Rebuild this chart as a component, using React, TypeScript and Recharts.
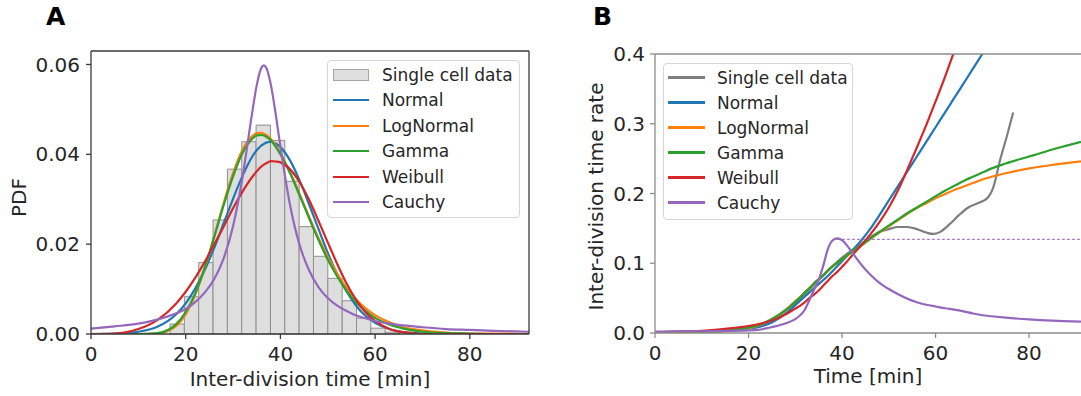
import { ComposedChart, Line, XAxis, YAxis, ReferenceLine, ReferenceArea, Legend } from "recharts";

const FONT = "'DejaVu Sans', sans-serif";
const INK = "#262626";

// matplotlib tab colours
const GRAY = "#7f7f7f";
const BLUE = "#1f77b4";
const ORANGE = "#ff7f0e";
const GREEN = "#2ca02c";
const RED = "#d62728";
const PURPLE = "#9467bd";

// ---- panel A: histogram of inter-division times + fitted pdfs ----
const BIN_WIDTH = 3.03;
const binCenters = [18.2, 21.23, 24.26, 27.29, 30.32, 33.35, 36.38, 39.41, 42.44, 45.47, 48.5, 51.53, 54.56, 57.59, 60.62, 63.65];
const binHeights = [0.0022, 0.0083, 0.0159, 0.0254, 0.0367, 0.0428, 0.0465, 0.0431, 0.034, 0.0239, 0.0173, 0.0124, 0.0074, 0.0035, 0.0013, 0.0004];

const pdfX = [0, 5, 10, 14, 18, 20, 22, 24, 26, 28, 30, 32, 34, 35, 36, 36.5, 37, 38, 39, 40, 42, 44, 46, 48, 50, 52, 54, 56, 58, 60, 63, 66, 70, 75, 80, 85, 92.5];
const pdfNormal = [0, 0.0001, 0.0005, 0.0016, 0.0044, 0.0068, 0.0101, 0.0142, 0.0191, 0.0246, 0.0301, 0.0352, 0.0394, 0.0409, 0.042, 0.0423, 0.0426, 0.0428, 0.0424, 0.0416, 0.0387, 0.0343, 0.029, 0.0235, 0.0181, 0.0133, 0.0094, 0.0063, 0.004, 0.0025, 0.0011, 0.0004, 0.0001, 0, 0, 0, 0];
const pdfLogNormal = [0, 0, 0, 0.0001, 0.0018, 0.0044, 0.0087, 0.0146, 0.0217, 0.0291, 0.0358, 0.041, 0.044, 0.0447, 0.0448, 0.0446, 0.0443, 0.0434, 0.042, 0.0403, 0.0361, 0.0313, 0.0263, 0.0215, 0.0172, 0.0134, 0.0102, 0.0077, 0.0057, 0.0042, 0.0026, 0.0015, 0.0008, 0.0003, 0.0001, 0.0001, 0];
const pdfGamma = [0, 0, 0, 0.0002, 0.0022, 0.0049, 0.009, 0.0147, 0.0215, 0.0286, 0.0351, 0.0403, 0.0434, 0.0442, 0.0443, 0.0442, 0.0439, 0.0431, 0.0417, 0.04, 0.0359, 0.031, 0.0259, 0.021, 0.0166, 0.0128, 0.0096, 0.007, 0.0051, 0.0036, 0.0021, 0.0012, 0.0005, 0.0002, 0.0001, 0, 0];
const pdfWeibull = [0, 0.0001, 0.0011, 0.0031, 0.0068, 0.0094, 0.0125, 0.016, 0.0199, 0.0239, 0.028, 0.0317, 0.0349, 0.0362, 0.0373, 0.0377, 0.038, 0.0385, 0.0384, 0.0382, 0.0367, 0.0339, 0.03, 0.0253, 0.0204, 0.0156, 0.0112, 0.0076, 0.0048, 0.0029, 0.0011, 0.0004, 0, 0, 0, 0, 0];
const pdfCauchy = [0.0012, 0.0017, 0.0023, 0.0032, 0.0046, 0.0056, 0.0071, 0.0092, 0.0122, 0.0168, 0.024, 0.0349, 0.049, 0.0554, 0.0593, 0.0598, 0.0593, 0.0554, 0.049, 0.0417, 0.0289, 0.02, 0.0143, 0.0105, 0.008, 0.0063, 0.0051, 0.0041, 0.0035, 0.0029, 0.0023, 0.0019, 0.0015, 0.0011, 0.0009, 0.0007, 0.0005];

// ---- panel B: inter-division time rate (hazard) ----
const cellX = [0, 10, 20, 25, 30, 35, 40, 44, 46, 48, 50, 52, 54, 56, 58, 59.5, 61, 63, 65, 67, 69, 71, 72.4, 73.8, 75.2, 76.6];
const cellRate = [0.001, 0.002, 0.008, 0.019, 0.043, 0.076, 0.108, 0.127, 0.137, 0.145, 0.149, 0.152, 0.152, 0.149, 0.144, 0.142, 0.145, 0.156, 0.169, 0.18, 0.186, 0.193, 0.21, 0.248, 0.281, 0.316];

const fitX = [0, 5, 10, 15, 20, 22, 25, 28, 30, 31, 32, 33, 34, 35, 36, 37, 38, 39, 40, 41, 42, 44, 46, 48, 50, 52, 54, 56, 58, 60, 62, 64, 66, 68, 70, 72, 75, 80, 85, 91.1];
const rateNormal = [0.001, 0.0015, 0.0025, 0.0045, 0.0065, 0.0085, 0.015, 0.028, 0.04, 0.046, 0.052, 0.058, 0.064, 0.07, 0.076, 0.082, 0.089, 0.096, 0.103, 0.11, 0.117, 0.132, 0.149, 0.169, 0.19, 0.211, 0.232, 0.253, 0.274, 0.295, 0.316, 0.337, 0.358, 0.379, 0.4, 0.421];
const rateLogNormal = [0.0001, 0.0003, 0.0008, 0.0025, 0.007, 0.0105, 0.0195, 0.0335, 0.0455, 0.0515, 0.058, 0.0645, 0.071, 0.077, 0.083, 0.0895, 0.0955, 0.1005, 0.1055, 0.1105, 0.1155, 0.125, 0.1345, 0.144, 0.153, 0.162, 0.171, 0.179, 0.186, 0.193, 0.199, 0.205, 0.21, 0.215, 0.22, 0.224, 0.229, 0.236, 0.241, 0.246];
const rateGamma = [0.0003, 0.0006, 0.0012, 0.003, 0.0075, 0.011, 0.02, 0.033, 0.045, 0.051, 0.058, 0.064, 0.071, 0.077, 0.083, 0.09, 0.096, 0.101, 0.106, 0.111, 0.116, 0.125, 0.135, 0.145, 0.154, 0.163, 0.172, 0.18, 0.188, 0.196, 0.204, 0.211, 0.218, 0.224, 0.23, 0.236, 0.243, 0.253, 0.263, 0.274];
const rateWeibull = [0.001, 0.002, 0.003, 0.006, 0.01, 0.0125, 0.018, 0.027, 0.035, 0.039, 0.044, 0.05, 0.055, 0.061, 0.068, 0.075, 0.082, 0.088, 0.095, 0.102, 0.11, 0.125, 0.141, 0.159, 0.18, 0.205, 0.235, 0.266, 0.298, 0.332, 0.367, 0.404, 0.442];
const rateCauchy = [0.002, 0.0022, 0.0025, 0.003, 0.0037, 0.0045, 0.0085, 0.014, 0.02, 0.025, 0.033, 0.047, 0.062, 0.076, 0.097, 0.121, 0.133, 0.1358, 0.133, 0.126, 0.117, 0.099, 0.084, 0.072, 0.063, 0.0555, 0.049, 0.044, 0.0405, 0.038, 0.0355, 0.0335, 0.031, 0.028, 0.0255, 0.024, 0.022, 0.0195, 0.0177, 0.0163];
const cauchyPeakX = [38.9, 91.1];
const cauchyPeakRate = [0.1343, 0.1343];

const pairs = (xs: number[], ys: number[]) => ys.map((y, i) => ({ x: xs[i], y }));

const legendA = [
    { label: "Single cell data", color: "#dedede", patch: true },
    { label: "Normal", color: BLUE },
    { label: "LogNormal", color: ORANGE },
    { label: "Gamma", color: GREEN },
    { label: "Weibull", color: RED },
    { label: "Cauchy", color: PURPLE },
];
const legendB = [
    { label: "Single cell data", color: GRAY },
    { label: "Normal", color: BLUE },
    { label: "LogNormal", color: ORANGE },
    { label: "Gamma", color: GREEN },
    { label: "Weibull", color: RED },
    { label: "Cauchy", color: PURPLE },
];

function LegendBox({ items, rowH, padL, handle, gap, w, h }: any) {
    return (
        <div style={{
            boxSizing: "border-box", width: w, height: h, padding: `1px 0 0 ${padL}px`,
            border: "1px solid #d6d6d6", borderRadius: 4, background: "rgba(255,255,255,0.85)", fontFamily: FONT,
        }}>
            {items.map((it: any) => (
                <div key={it.label} style={{ display: "flex", alignItems: "center", height: rowH }}>
                    {it.patch ? (
                        <span style={{ boxSizing: "border-box", width: handle, height: 12, background: it.color, border: "1px solid #a6a6a6" }} />
                    ) : (
                        <span style={{ width: handle, height: 2.2, background: it.color }} />
                    )}
                    <span style={{ marginLeft: gap, fontSize: 17, color: INK, whiteSpace: "nowrap" }}>{it.label}</span>
                </div>
            ))}
        </div>
    );
}

const tickStyle = { fill: INK, fontSize: 20 };
const labelStyle = { fill: INK, fontSize: 20 };

function PanelA() {
    const W = 540, H = 396;
    const axis = "#3a3a3a";
    const fits = [
        { name: "Normal", ys: pdfNormal, color: BLUE },
        { name: "LogNormal", ys: pdfLogNormal, color: ORANGE },
        { name: "Gamma", ys: pdfGamma, color: GREEN },
        { name: "Weibull", ys: pdfWeibull, color: RED },
        { name: "Cauchy", ys: pdfCauchy, color: PURPLE },
    ];
    return (
        <ComposedChart width={W} height={H} margin={{ top: 51, right: 11, bottom: 0, left: 0 }}>
            <XAxis dataKey="x" type="number" domain={[0, 92.5]} allowDataOverflow ticks={[0, 20, 40, 60, 80]}
                height={62} tickSize={5} tickMargin={8} stroke={axis} strokeWidth={1.3} tick={tickStyle}
                label={{ value: "Inter-division time [min]", position: "insideBottom", offset: 10, ...labelStyle }} />
            <YAxis type="number" domain={[0, 0.063]} allowDataOverflow ticks={[0, 0.02, 0.04, 0.06]}
                tickFormatter={(v: number) => v.toFixed(2)} width={91} tickSize={5} tickMargin={6}
                stroke={axis} strokeWidth={1.3} tick={tickStyle}
                label={{ value: "PDF", angle: -90, position: "center", dx: -27, dy: 5, ...labelStyle }} />
            {binCenters.map((c, i) => (
                <ReferenceArea key={c} x1={c - BIN_WIDTH / 2} x2={c + BIN_WIDTH / 2} y1={0} y2={binHeights[i]}
                    fill="#dedede" fillOpacity={1} stroke="#8f8f8f" strokeWidth={1} />
            ))}
            {fits.map(f => (
                <Line key={f.name} data={pairs(pdfX, f.ys)} dataKey="y" type="monotone" stroke={f.color}
                    strokeWidth={2.2} dot={false} isAnimationActive={false} />
            ))}
            <ReferenceLine y={0.063} stroke={axis} strokeWidth={1.3} />
            <ReferenceLine x={92.5} stroke={axis} strokeWidth={1.3} />
            <Legend layout="vertical" align="center" verticalAlign="middle"
                wrapperStyle={{ left: 327, top: 60, width: 193, height: 158 }}
                content={() => <LegendBox items={legendA} rowH={25.5} padL={5} handle={36} gap={13} w={193} h={158} />} />
        </ComposedChart>
    );
}

function PanelB() {
    const W = 521, H = 396;
    const axis = "#8c8c8c";
    const fits = [
        { name: "Normal", ys: rateNormal, color: BLUE },
        { name: "LogNormal", ys: rateLogNormal, color: ORANGE },
        { name: "Gamma", ys: rateGamma, color: GREEN },
        { name: "Weibull", ys: rateWeibull, color: RED },
        { name: "Cauchy", ys: rateCauchy, color: PURPLE },
    ];
    return (
        <ComposedChart width={W} height={H} margin={{ top: 54, right: 0, bottom: 0, left: 0 }}>
            <XAxis dataKey="x" type="number" domain={[0, 91.1]} allowDataOverflow ticks={[0, 20, 40, 60, 80]}
                height={63} tickSize={5} tickMargin={8} stroke={axis} strokeWidth={1.3} tick={tickStyle}
                label={{ value: "Time [min]", position: "insideBottom", offset: 13, ...labelStyle }} />
            <YAxis type="number" domain={[0, 0.4]} allowDataOverflow ticks={[0, 0.1, 0.2, 0.3, 0.4]}
                tickFormatter={(v: number) => v.toFixed(1)} width={95} tickSize={5} tickMargin={5}
                stroke={axis} strokeWidth={1.3} tick={tickStyle}
                label={{ value: "Inter-division time rate", angle: -90, position: "center", dx: -12, dy: 3, ...labelStyle }} />
            <Line data={pairs(cellX, cellRate)} dataKey="y" type="monotone" stroke={GRAY} strokeWidth={2.2}
                dot={false} isAnimationActive={false} />
            {fits.map(f => (
                <Line key={f.name} data={pairs(fitX, f.ys)} dataKey="y" type="monotone" stroke={f.color}
                    strokeWidth={2.2} dot={false} isAnimationActive={false} />
            ))}
            <Line data={pairs(cauchyPeakX, cauchyPeakRate)} dataKey="y" stroke={PURPLE} strokeWidth={1}
                strokeDasharray="3 2" dot={false} isAnimationActive={false} />
            <ReferenceLine y={0.4} stroke={axis} strokeWidth={1.3} />
            <Legend layout="vertical" align="center" verticalAlign="middle"
                wrapperStyle={{ left: 103, top: 63, width: 190, height: 157 }}
                content={() => <LegendBox items={legendB} rowH={25} padL={4} handle={37} gap={12} w={190} h={157} />} />
        </ComposedChart>
    );
}

export default function App() {
    return (
        <div style={{ position: "fixed", left: 0, top: 0, width: 1081, height: 396, background: "#fff", fontFamily: FONT, overflow: "hidden" }}>
            <div style={{ position: "absolute", left: 0, top: 0 }}><PanelA /></div>
            <div style={{ position: "absolute", left: 560, top: 0 }}><PanelB /></div>
            <div style={{ position: "absolute", left: 46, top: 4, fontSize: 25, lineHeight: "25px", fontWeight: "bold", color: "#000" }}>A</div>
            <div style={{ position: "absolute", left: 593, top: 4, fontSize: 25, lineHeight: "25px", fontWeight: "bold", color: "#000" }}>B</div>
        </div>
    );
}
